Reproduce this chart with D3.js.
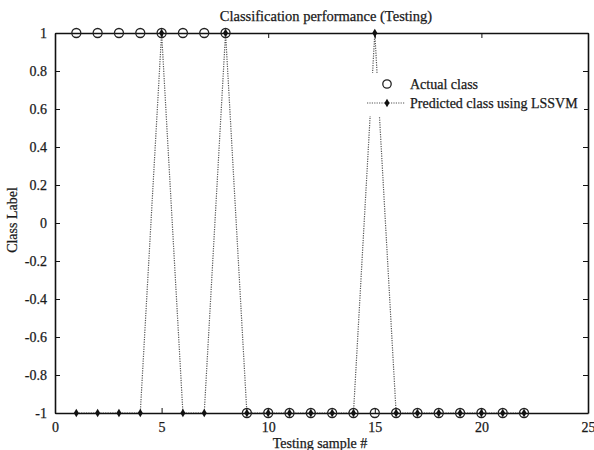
<!DOCTYPE html>
<html><head><meta charset="utf-8">
<script src="https://cdn.jsdelivr.net/npm/d3@7"></script>
<style>body{margin:0;background:#fff}svg text{font-family:"Liberation Serif","Times New Roman",serif;fill:#1a1a1a;stroke:#1a1a1a;stroke-width:0.25px}</style>
</head><body>
<svg id="c" width="594" height="450"></svg>
<script>
const samples = [1,2,3,4,5,6,7,8,9,10,11,12,13,14,15,16,17,18,19,20,21,22];
const actualClass = [1,1,1,1,1,1,1,1,-1,-1,-1,-1,-1,-1,-1,-1,-1,-1,-1,-1,-1,-1];
const predictedClass = [-1,-1,-1,-1,1,-1,-1,1,-1,-1,-1,-1,-1,-1,1,-1,-1,-1,-1,-1,-1,-1];
const xTicks = [0,5,10,15,20,25];
const yTicks = [-1,-0.8,-0.6,-0.4,-0.2,0,0.2,0.4,0.6,0.8,1];
const yTickLabels = ["-1","-0.8","-0.6","-0.4","-0.2","0","0.2","0.4","0.6","0.8","1"];
const titleText = "Classification performance (Testing)";
const xLabel = "Testing sample #";
const yLabel = "Class Label";
const legendLabels = ["Actual class","Predicted class using LSSVM"];

const svg = d3.select("#c");
const L=55,R=588,T=33,B=413;
const x = d3.scaleLinear().domain([0,25]).range([L,R]);
const y = d3.scaleLinear().domain([-1,1]).range([B,T]);

const pts = samples.map((s,i)=>({x:s,p:predictedClass[i],a:actualClass[i]}));
svg.append("path").datum(pts)
  .attr("d", d3.line().x(d=>x(d.x)).y(d=>y(d.p)))
  .attr("fill","none").attr("stroke","#555").attr("stroke-width",1.2).attr("stroke-dasharray","1.2,1.2");

const ax = svg.append("g");
ax.append("g").attr("transform",`translate(0,${B})`).call(d3.axisBottom(x).tickValues(xTicks).tickSizeInner(-5).tickSizeOuter(0).tickPadding(9).tickFormat(d=>String(d)));
ax.append("g").attr("transform",`translate(0,${T})`).call(d3.axisTop(x).tickValues(xTicks).tickSizeInner(-5).tickSizeOuter(0).tickFormat(""));
ax.append("g").attr("transform",`translate(${L},0)`).call(d3.axisLeft(y).tickValues(yTicks).tickSizeInner(-5).tickSizeOuter(0).tickPadding(8).tickFormat((d,i)=>yTickLabels[i]));
ax.append("g").attr("transform",`translate(${R},0)`).call(d3.axisRight(y).tickValues(yTicks).tickSizeInner(-5).tickSizeOuter(0).tickFormat(""));
ax.selectAll("g").attr("font-family",null).attr("font-size",null);
ax.selectAll(".domain").attr("stroke","#111").attr("stroke-width",1.6);
ax.selectAll(".tick line").attr("stroke","#111").attr("stroke-width",1);
ax.selectAll(".tick text").style("font-size","14px").style("font-family","'Liberation Serif', serif").style("fill","#1a1a1a");

svg.append("g").selectAll("circle").data(pts).join("circle")
  .attr("cx",d=>x(d.x)).attr("cy",d=>y(d.a)).attr("r",4.5)
  .attr("fill","none").attr("stroke","#222").attr("stroke-width",1.3);
svg.append("g").selectAll("path").data(pts).join("path")
  .attr("transform",d=>`translate(${x(d.x)},${y(d.p)})`)
  .attr("d",d3.symbol(d3.symbolDiamond,22)).attr("fill","#111");

const lg = svg.append("g");
lg.append("rect").attr("x",362).attr("y",73).attr("width",222).attr("height",43).attr("fill","#fff");
lg.append("circle").attr("cx",387).attr("cy",84).attr("r",4.2).attr("fill","none").attr("stroke","#222").attr("stroke-width",1.3);
lg.append("text").attr("x",410).attr("y",89).style("font-size","14px").text(legendLabels[0]);
lg.append("line").attr("x1",367).attr("x2",405).attr("y1",103).attr("y2",103).attr("stroke","#555").attr("stroke-width",1.2).attr("stroke-dasharray","1.2,1.2");
lg.append("path").attr("transform","translate(387,103)").attr("d",d3.symbol(d3.symbolDiamond,22)).attr("fill","#111");
lg.append("text").attr("x",410).attr("y",108).style("font-size","14px").text(legendLabels[1]);

svg.append("text").attr("x",326).attr("y",21).attr("text-anchor","middle").style("font-size","14.5px").text(titleText);
svg.append("text").attr("x",320).attr("y",448).attr("text-anchor","middle").style("font-size","14px").text(xLabel);
svg.append("text").attr("transform","translate(17,220) rotate(-90)").attr("text-anchor","middle").style("font-size","14px").text(yLabel);
</script>
</body></html>
